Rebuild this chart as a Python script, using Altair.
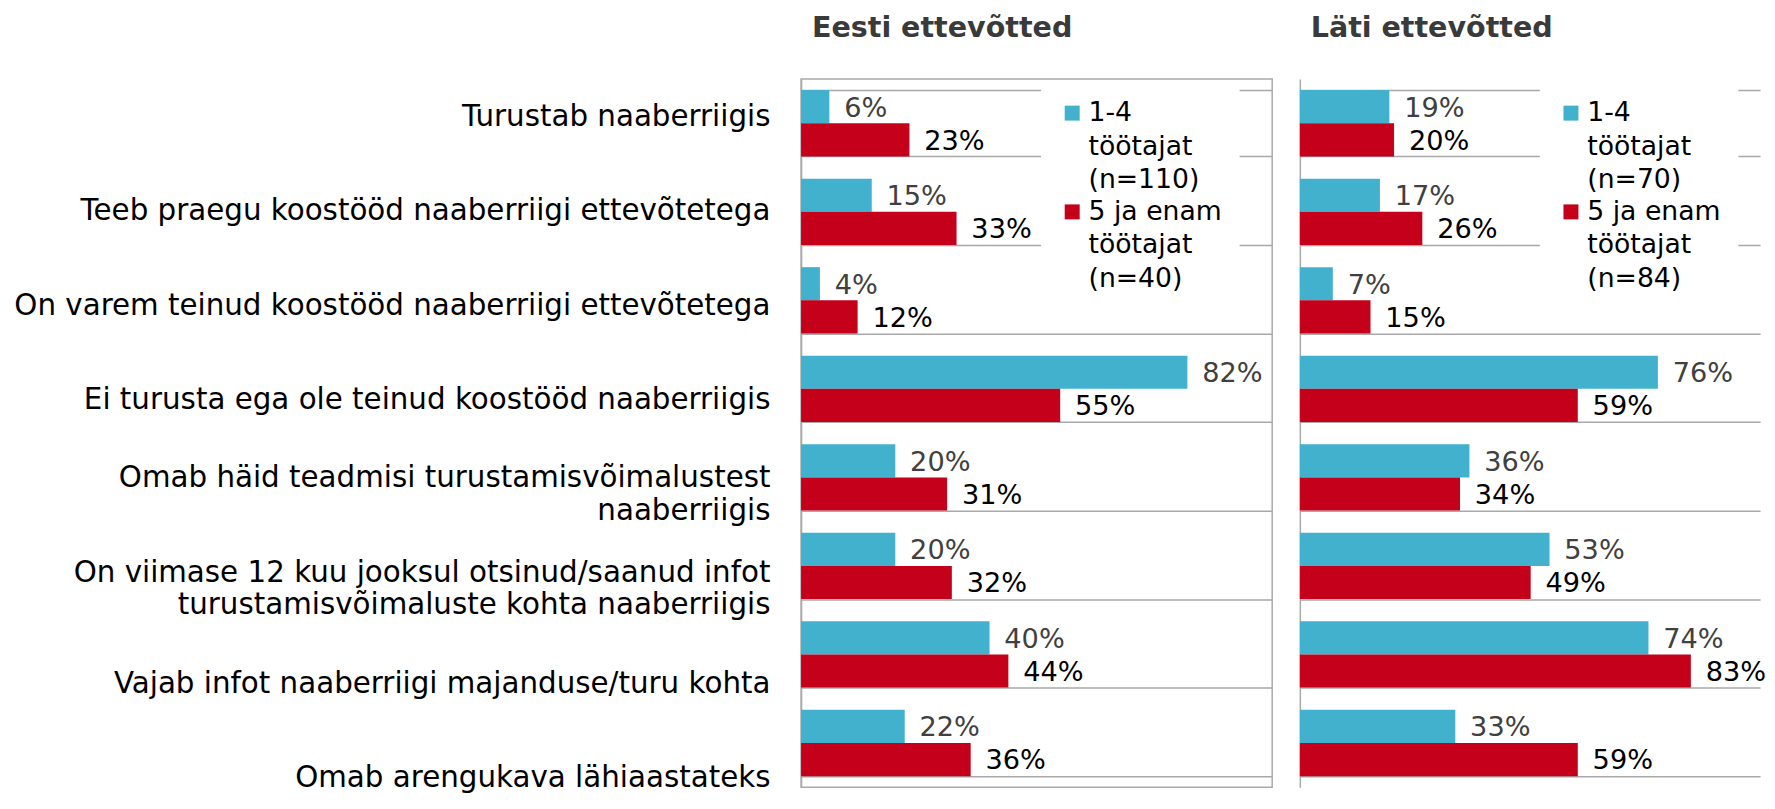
import altair as alt
import pandas as pd

FONT = "DejaVu Sans"
GRID = "#A9A9A9"

categories = [
    "Turustab naaberriigis",
    "Teeb praegu koostööd naaberriigi ettevõtetega",
    "On varem teinud koostööd naaberriigi ettevõtetega",
    "Ei turusta ega ole teinud koostööd naaberriigis",
    "Omab häid teadmisi turustamisvõimalustest|naaberriigis",
    "On viimase 12 kuu jooksul otsinud/saanud infot|turustamisvõimaluste kohta naaberriigis",
    "Vajab infot naaberriigi majanduse/turu kohta",
    "Omab arengukava lähiaastateks",
]
panel_titles = ["Eesti ettevõtted", "Läti ettevõtted"]
est_series = ["1-4|töötajat|(n=110)", "5 ja enam|töötajat|(n=40)"]
lat_series = ["1-4|töötajat|(n=70)", "5 ja enam|töötajat|(n=84)"]
est_small = [6, 15, 4, 82, 20, 20, 40, 22]
est_large = [23, 33, 12, 55, 31, 32, 44, 36]
lat_small = [19, 17, 7, 76, 36, 53, 74, 33]
lat_large = [20, 26, 15, 59, 34, 49, 83, 59]
colors = ["#41B1CD", "#C4001A"]

FULL_W = 477      # width of a panel showing 0-100 %
RIGHT_W = 466     # right panel is cut at the page edge, as in the original
H = 717


def frame(series, small, large):
    rows = []
    for i, c in enumerate(categories):
        rows.append(dict(cat=c, series=series[0], order=0, value=small[i], lbl=f"{small[i]}%"))
        rows.append(dict(cat=c, series=series[1], order=1, value=large[i], lbl=f"{large[i]}%"))
    return pd.DataFrame(rows)


def panel(df, series, title, with_labels, width):
    base = alt.Chart(df)
    y = alt.Y(
        "cat:N",
        sort=categories,
        scale=alt.Scale(type="band", paddingInner=0.25, paddingOuter=0.125),
        axis=alt.Axis(
            title=None, orient="left", labels=False, ticks=False, grid=True, tickBand="extent",
            gridColor=GRID, gridWidth=1.5, domainColor=GRID, domainWidth=1.5,
            minExtent=0, maxExtent=0,
        ),
    )
    x = alt.X("value:Q", scale=alt.Scale(domain=[0, 100 * width / FULL_W], nice=False), axis=None)
    yoff = alt.YOffset("order:N", scale=alt.Scale(type="band", paddingInner=0, paddingOuter=0))
    bars = base.mark_bar().encode(
        x=x,
        y=y,
        yOffset=yoff,
        color=alt.Color(
            "series:N",
            scale=alt.Scale(domain=series, range=colors),
            legend=alt.Legend(
                title=None, orient="none", legendX=243, legendY=3, fillColor="white",
                padding=18, symbolType="square", symbolSize=230, symbolStrokeWidth=0,
                labelFontSize=27, labelFont=FONT, labelColor="black",
                labelExpr="split(datum.label, '|')", rowPadding=4, labelLimit=400,
                zindex=2, labelOffset=3,
            ),
        ),
    )
    texts = base.mark_text(align="left", baseline="middle", dx=15, dy=2, fontSize=27.5, font=FONT).encode(
        x=x,
        y=y,
        yOffset=yoff,
        text="lbl:N",
        color=alt.condition(alt.datum.order == 0, alt.value("#404040"), alt.value("#000000")),
    )
    main = alt.layer(bars, texts)
    if with_labels:
        labels = (
            alt.Chart(pd.DataFrame({"cat": categories}))
            .mark_point(opacity=0)
            .encode(
                x=alt.value(0),
                y=alt.Y(
                    "cat:N", sort=categories,
                    scale=alt.Scale(type="point", padding=0.246, align=0.798),
                    axis=alt.Axis(
                        title=None, orient="left", domain=False, ticks=False, tickSize=0,
                        grid=False, labelFontSize=29.7, labelFont=FONT, labelColor="black",
                        labelPadding=31.5, labelLineHeight=33,
                        labelOffset={"condition": {"test": "indexof(datum.value, '|') >= 0",
                                                   "value": -16.5}, "value": 0},
                        labelExpr="split(datum.label, '|')", labelLimit=1000,
                        minExtent=782, maxExtent=782,
                    ),
                ),
            )
        )
        ch = alt.layer(main, labels).resolve_scale(y="independent")
        view = alt.ViewBackground(stroke=GRID, strokeWidth=1.5)
    else:
        ch = main
        view = alt.ViewBackground(stroke="transparent")
    ch = ch.properties(
        width=width, height=H, view=view,
        title=alt.Title(title, anchor="start", frame="group", dx=11, fontSize=28.9, font=FONT,
                        fontWeight="bold", color="#3A3A3A", offset=37),
    )
    return ch


left = panel(frame(est_series, est_small, est_large), est_series, panel_titles[0], True, FULL_W)
right = panel(frame(lat_series, lat_small, lat_large), lat_series, panel_titles[1], False, RIGHT_W)

chart = (
    alt.hconcat(left, right, spacing=26)
    .resolve_scale(color="independent", yOffset="independent")
    .resolve_legend(color="independent")
    .properties(padding={"top": 0, "left": 5, "right": 0, "bottom": 0})
    .configure(font=FONT, style={"guide-label": {"lineHeight": 34}})
)

chart.save("out.html", embed_options={"renderer": "svg", "actions": False})
